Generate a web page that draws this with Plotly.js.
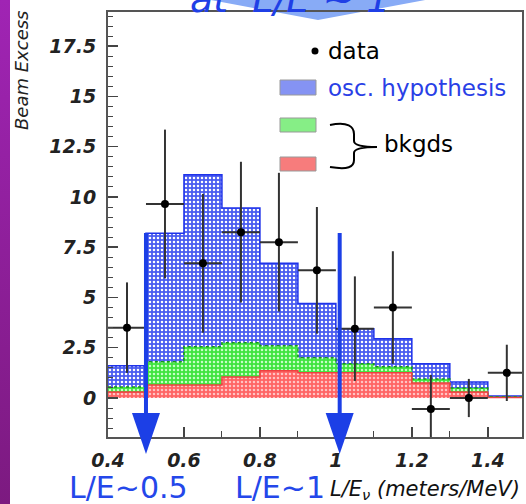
<!DOCTYPE html>
<html><head><meta charset="utf-8">
<script src="https://cdn.plot.ly/plotly-3.0.1.min.js"></script>
<style>
html,body{margin:0;padding:0;background:#fff;overflow:hidden;}
#chart{position:absolute;left:0;top:0;width:526px;height:504px;}
#strip{position:absolute;left:0;top:0;width:10px;height:504px;background:linear-gradient(to bottom,#a024b4,#7c1a80);z-index:5;}
</style></head><body>
<div id="chart"></div><div id="strip"></div>
<script>
// ---- data ----
const binEdges = [0.4,0.5,0.6,0.7,0.8,0.9,1.0,1.1,1.2,1.3,1.4,1.5];
const oscTotal = [1.6, 8.2, 11.1, 9.45, 6.7, 4.7, 3.45, 2.95, 1.7, 0.8, 0.1];   // osc + bkgds
const bkgTotal = [0.55, 1.8, 2.55, 2.75, 2.6, 2.0, 1.7, 1.55, 0.95, 0.5, 0.06]; // green + red
const bkgRed   = [0.3, 0.65, 0.65, 1.05, 1.35, 1.25, 1.25, 1.25, 0.75, 0.3, 0.03];
const dataX    = [0.45,0.55,0.65,0.75,0.85,0.95,1.05,1.15,1.25,1.35,1.45];
const dataY    = [3.5, 9.65, 6.7, 8.25, 7.75, 6.35, 3.45, 4.5, -0.55, 0.0, 1.25];
const dataErr  = [2.25, 3.7, 3.45, 3.5, 3.45, 3.15, 2.6, 2.8, 1.7, 0.95, 1.4];
const xTickVals = [0.4,0.6,0.8,1.0,1.2,1.4];
const xTickText = ['0.4','0.6','0.8','1','1.2','1.4'];
const yTickVals = [0,2.5,5,7.5,10,12.5,15,17.5];
const yTickText = ['0','2.5','5','7.5','10','12.5','15','17.5'];
const arrowAt = [0.5, 1.01];
const arrowLabels = ['L/E~0.5','L/E~1'];

// ---- layout helpers ----
const W = 526, H = 504, L = 108, R = 522, T = 12, B = 437;
const xRange = [0.4, 1.49], yRange = [-1.94, 19.2];
const pxX = p => (p - L) / (R - L);
const pxY = p => (B - p) / (B - T);
const dX = v => (v - xRange[0]) / (xRange[1] - xRange[0]);
const step = v => v.concat([v[v.length - 1]]);

function stepTrace(vals, bg, fg, line, dash, sol) {
  return {
    x: binEdges, y: step(vals), type: 'scatter', mode: 'lines',
    line: {shape: 'hv', color: line, width: 1.5, dash: dash || 'solid'},
    fill: 'tozeroy',
    fillpattern: {shape: '.', bgcolor: bg, fgcolor: fg, size: 4, solidity: sol, fillmode: 'replace'},
    hoverinfo: 'skip', showlegend: false
  };
}

const traces = [
  stepTrace(oscTotal, '#4a5cf0', '#ffffff', '#1f33ea', 'solid', 0.32),
  stepTrace(bkgTotal, '#3fe43f', '#c6ffc6', '#169a16', 'dot', 0.32),
  stepTrace(bkgRed, '#ff6464', '#ffc4c4', '#ee4040', 'solid', 0.32),
  {
    x: dataX, y: dataY, type: 'scatter', mode: 'markers',
    marker: {size: 8, color: '#000'},
    error_y: {type: 'data', array: dataErr, color: '#333', thickness: 2, width: 0},
    error_x: {type: 'constant', value: 0.05, color: '#333', thickness: 2, width: 0},
    showlegend: false
  }
];

const tickFont = {family: 'DejaVu Sans', size: 19, color: '#222', style: 'italic', weight: 'bold'};
const shapes = [];
const annotations = [];

// top decoration arrow + text
shapes.push({type: 'path', xref: 'paper', yref: 'paper', layer: 'below',
  path: `M ${pxX(200)} ${pxY(-2)} L ${pxX(436)} ${pxY(-2)} L ${pxX(318)} ${pxY(20)} Z`,
  fillcolor: '#88abf6', line: {width: 0}});
annotations.push({xref: 'paper', yref: 'paper', x: pxX(290), y: pxY(-1), xanchor: 'center', yanchor: 'middle',
  text: 'at  L/E ~ 1', showarrow: false,
  font: {family: 'DejaVu Sans', size: 38, color: '#1f3fe6', style: 'italic'}});

// big blue arrows
arrowAt.forEach((v, i) => {
  const xc = dX(v), hw = 14 / (R - L);
  shapes.push({type: 'line', xref: 'paper', yref: 'paper', x0: xc, x1: xc, y0: pxY(233), y1: pxY(416),
    line: {color: '#1c3fe6', width: 4}});
  shapes.push({type: 'path', xref: 'paper', yref: 'paper',
    path: `M ${xc - hw} ${pxY(413)} L ${xc + hw} ${pxY(413)} L ${xc} ${pxY(454)} Z`,
    fillcolor: '#1c3fe6', line: {width: 0}});
});
annotations.push({xref: 'paper', yref: 'paper', x: pxX(67), y: pxY(487), xanchor: 'left', yanchor: 'middle',
  text: arrowLabels[0], showarrow: false, font: {family: 'DejaVu Sans', size: 30, color: '#2447ea'}});
annotations.push({xref: 'paper', yref: 'paper', x: pxX(233), y: pxY(487), xanchor: 'left', yanchor: 'middle',
  text: arrowLabels[1], showarrow: false, font: {family: 'DejaVu Sans', size: 30, color: '#2447ea'}});

// axis titles
annotations.push({xref: 'paper', yref: 'paper', x: pxX(522), y: pxY(490), xanchor: 'right', yanchor: 'middle',
  text: 'L/E<sub>ν</sub> (meters/MeV)', showarrow: false,
  font: {family: 'DejaVu Sans', size: 21, color: '#111', style: 'italic'}});
annotations.push({xref: 'paper', yref: 'paper', x: pxX(22), y: pxY(71), xanchor: 'center', yanchor: 'middle',
  text: 'Beam Excess', textangle: -90, showarrow: false,
  font: {family: 'DejaVu Sans', size: 18, color: '#222', style: 'italic'}});

// legend
shapes.push({type: 'circle', xref: 'paper', yref: 'paper', x0: pxX(311.5), x1: pxX(318.5), y0: pxY(47.5), y1: pxY(54.5),
  fillcolor: '#000', line: {width: 0}});
annotations.push({xref: 'paper', yref: 'paper', x: pxX(326), y: pxY(51), xanchor: 'left', yanchor: 'middle',
  text: 'data', showarrow: false, font: {family: 'DejaVu Sans', size: 23, color: '#000'}});
const boxes = [[80, 95, '#8593f3'], [118, 132, '#86ee86'], [157, 171, '#f77c7c']];
boxes.forEach(b => shapes.push({type: 'rect', xref: 'paper', yref: 'paper', x0: pxX(280), x1: pxX(316),
  y0: pxY(b[1]), y1: pxY(b[0]), fillcolor: b[2], line: {color: '#999', width: 1}}));
annotations.push({xref: 'paper', yref: 'paper', x: pxX(326), y: pxY(88), xanchor: 'left', yanchor: 'middle',
  text: 'osc. hypothesis', showarrow: false, font: {family: 'DejaVu Sans', size: 23, color: '#2a3fe6'}});
annotations.push({xref: 'paper', yref: 'paper', x: pxX(382), y: pxY(144), xanchor: 'left', yanchor: 'middle',
  text: 'bkgds', showarrow: false, font: {family: 'DejaVu Sans', size: 23, color: '#000'}});
const braceP = [[330,125],'C',[348,121],[354,127],[354,134],'L',[354,141],'C',[354,145],[360,147],[377,147],
  'M',[377,147],'C',[360,147],[354,149],[354,153],'L',[354,160],'C',[354,167],[348,170],[330,167]];
let bp = 'M';
braceP.forEach(p => { bp += (typeof p === 'string') ? ' ' + p : ` ${pxX(p[0])} ${pxY(p[1])}`; });
shapes.push({type: 'path', xref: 'paper', yref: 'paper', path: bp, line: {color: '#000', width: 2}});

const axisCommon = {
  showline: true, mirror: true, linecolor: '#555', linewidth: 2,
  showgrid: false, zeroline: false, ticks: 'inside', ticklen: 10, tickwidth: 1.5, tickcolor: '#444',
  tickfont: tickFont, fixedrange: true
};

const layout = {
  width: W, height: H,
  margin: {l: L, r: W - R, t: T, b: H - B, pad: 0},
  paper_bgcolor: 'rgba(255,255,255,1)', plot_bgcolor: '#fff',
  showlegend: false,
  xaxis: Object.assign({}, axisCommon, {range: xRange, tickmode: 'array', tickvals: xTickVals, ticktext: xTickText,
    ticklabelstandoff: 5,
    minor: {tickmode: 'linear', tick0: 0.4, dtick: 0.1, ticks: 'inside', ticklen: 6, tickcolor: '#444', tickwidth: 1}}),
  yaxis: Object.assign({}, axisCommon, {range: yRange, tickmode: 'array', tickvals: yTickVals, ticktext: yTickText,
    ticklabelstandoff: 6,
    minor: {tickmode: 'linear', tick0: 0, dtick: 0.5, ticks: 'inside', ticklen: 5, tickcolor: '#444', tickwidth: 1}}),
  shapes: shapes, annotations: annotations
};

Plotly.newPlot('chart', traces, layout, {displayModeBar: false, staticPlot: true});
</script></body></html>
